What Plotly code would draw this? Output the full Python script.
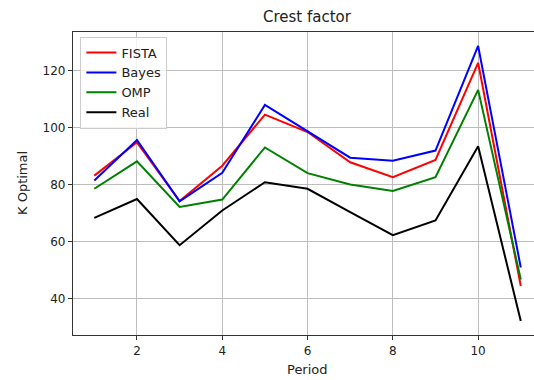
import plotly.graph_objects as go

# Optimal K per period for each reconstruction method (crest factor criterion)
period = [1, 2, 3, 4, 5, 6, 7, 8, 9, 10, 11]
fista = [83.2, 94.9, 74.3, 86.7, 104.6, 98.5, 87.9, 82.7, 88.7, 122.8, 44.5]
bayes = [81.5, 95.7, 74.2, 84.2, 108.0, 98.8, 89.5, 88.4, 92.0, 128.7, 51.0]
omp = [78.6, 88.2, 72.2, 74.8, 93.1, 84.1, 80.1, 77.8, 82.7, 113.3, 46.8]
real = [68.4, 75.0, 58.8, 71.0, 80.9, 78.6, 70.4, 62.3, 67.5, 93.5, 32.2]

series = [
    ("FISTA", fista, "#ff0000"),
    ("Bayes", bayes, "#0000ff"),
    ("OMP", omp, "#008000"),
    ("Real", real, "#000000"),
]

FONT = "DejaVu Sans"

fig = go.Figure()
for name, vals, color in series:
    fig.add_trace(go.Scatter(
        x=period, y=vals, mode="lines", name=name,
        line=dict(color=color, width=2),
    ))

axis_common = dict(
    showgrid=True, gridcolor="#bdbdbd", gridwidth=1,
    zeroline=False,
    showline=True, linecolor="#333333", linewidth=1.3,
    ticks="outside", ticklen=4, tickcolor="#333333", tickwidth=1,
    tickfont=dict(family=FONT, size=12, color="#222222"),
)

fig.update_layout(
    width=534, height=380,
    margin=dict(l=73, r=0, t=32, b=45),
    paper_bgcolor="white", plot_bgcolor="white",
    showlegend=True,
    legend=dict(
        x=0.016, y=0.985, xanchor="left", yanchor="top",
        bgcolor="rgba(255,255,255,0.8)", bordercolor="#cccccc", borderwidth=1,
        font=dict(family=FONT, size=13, color="#222222"),
        tracegroupgap=0,
    ),
    xaxis=dict(range=[0.5, 11.31], tickvals=[2, 4, 6, 8, 10], mirror=True, **axis_common),
    yaxis=dict(range=[27.3, 133.6], tickvals=[40, 60, 80, 100, 120], **axis_common),
    annotations=[
        dict(text="Crest factor", xref="paper", yref="paper", x=0.509, y=1,
             yshift=4, xanchor="center", yanchor="bottom", showarrow=False,
             font=dict(family=FONT, size=15, color="#222222")),
        dict(text="Period", xref="paper", yref="paper", x=0.509, y=0,
             yshift=-25, xanchor="center", yanchor="top", showarrow=False,
             font=dict(family=FONT, size=13, color="#222222")),
        dict(text="K Optimal", xref="paper", yref="paper", x=0, y=0.5,
             xshift=-41, xanchor="right", yanchor="middle", textangle=-90,
             showarrow=False, font=dict(family=FONT, size=13, color="#222222")),
    ],
)

fig.write_html("out.html")
